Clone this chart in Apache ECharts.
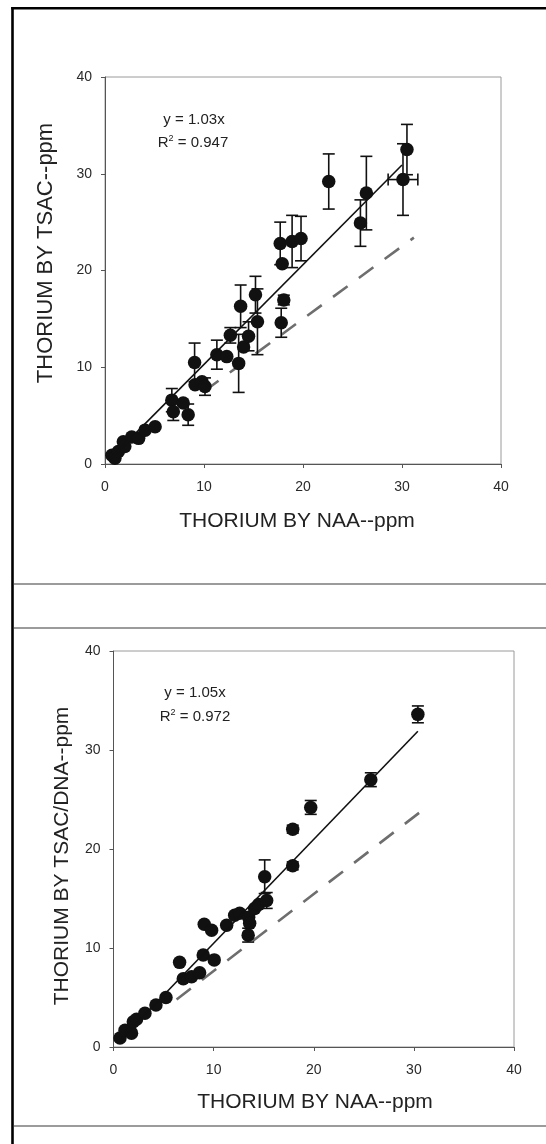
<!DOCTYPE html>
<html>
<head>
<meta charset="utf-8">
<script src="https://cdn.jsdelivr.net/npm/echarts@6/dist/echarts.min.js"></script>
<style>
html,body{margin:0;padding:0;background:#fff;}
#c{width:546px;height:1144px;}
</style>
</head>
<body>
<div id="c"></div>
<script>
// ---------- DATA ----------
const xTicks = [0, 10, 20, 30, 40];
const yTicks = [0, 10, 20, 30, 40];

// Top panel: TSAC vs NAA
const topX   = [0.7, 1.0, 1.35, 1.85, 2.0, 2.7, 3.4, 4.05, 5.06, 6.75, 6.9, 7.9, 8.4, 9.05, 9.1, 9.8, 10.1, 11.3, 12.3, 12.66, 13.5, 13.7, 14.0, 14.5, 15.2, 15.4, 17.8, 18.06, 17.9, 17.7, 18.9, 19.8, 22.6, 25.8, 26.4, 30.1, 30.5];
const topY   = [0.9, 0.6, 1.3, 2.3, 1.8, 2.8, 2.65, 3.5, 3.85, 6.6, 5.4, 6.3, 5.1, 10.5, 8.2, 8.5, 8.0, 11.3, 11.1, 13.3, 10.4, 16.3, 12.1, 13.2, 17.5, 14.7, 14.6, 16.95, 20.7, 22.8, 23.0, 23.3, 29.2, 24.9, 28.0, 29.4, 32.5];
const topYErr= [0, 0, 0, 0, 0, 0, 0, 0, 0, 1.2, 0.9, 0, 1.1, 2.0, 0, 0, 0.9, 1.5, 0, 0.8, 3.0, 2.2, 0, 1.5, 1.9, 3.4, 1.5, 0.5, 0, 2.2, 2.7, 2.3, 2.85, 2.4, 3.8, 3.7, 2.6];
const topXErr= [0, 0, 0, 0, 0, 0, 0, 0, 0, 0, 0, 0, 0, 0, 0, 0, 0, 0, 0, 0, 0, 0, 0, 0, 0, 0, 0, 0, 0, 0, 0, 0, 0, 0, 0, 1.5, 0];
const topFit    = [[0.5, 0.5], [30.0, 30.9]];      // y = 1.03x
const topDashed = [[10.0, 7.5], [31.2, 23.4]];
const topEq = "y = 1.03x";
const topR2 = "0.947";

// Bottom panel: TSAC/DNA vs NAA
const botX   = [0.65, 1.15, 1.8, 1.98, 2.3, 3.14, 4.24, 5.24, 6.6, 6.97, 7.8, 8.6, 8.96, 10.06, 9.06, 9.8, 11.3, 12.1, 12.6, 13.5, 13.6, 13.45, 14.1, 14.5, 15.3, 15.1, 17.9, 17.9, 19.7, 25.7, 30.4];
const botY   = [0.9, 1.7, 1.4, 2.55, 2.8, 3.4, 4.24, 5.0, 8.55, 6.9, 7.1, 7.5, 9.3, 8.8, 12.4, 11.8, 12.3, 13.3, 13.5, 13.1, 12.5, 11.3, 14.0, 14.4, 14.8, 17.2, 18.3, 22.0, 24.2, 27.0, 33.6];
const botYErr= [0, 0, 0, 0, 0, 0, 0, 0, 0, 0, 0, 0, 0, 0, 0, 0, 0, 0, 0, 0, 0, 0.7, 0, 0, 0.8, 1.7, 0.4, 0.4, 0.7, 0.7, 0.85];
const botFit    = [[0.6, 0.6], [30.4, 31.9]];      // y = 1.05x
const botDashed = [[6.3, 4.8], [31.1, 24.1]];
const botEq = "y = 1.05x";
const botR2 = "0.972";

const xTitle = "THORIUM BY NAA--ppm";
const yTitleTop = "THORIUM BY TSAC--ppm";
const yTitleBot = "THORIUM BY TSAC/DNA--ppm";

// ---------- CHART ----------
const FONT = "'Liberation Sans', Arial, sans-serif";
const chart = echarts.init(document.getElementById('c'), null, {renderer: 'canvas'});

function zip(xs, ys) { return xs.map((x, i) => [x, ys[i]]); }
function errData(xs, ys, ey, ex) { return xs.map((x, i) => [x, ys[i], ey[i], ex ? ex[i] : 0]); }

function axisX(gi) {
  return {
    type: 'value', gridIndex: gi, min: xTicks[0], max: xTicks[xTicks.length - 1], interval: xTicks[1] - xTicks[0],
    axisLine: {show: true, onZero: false, lineStyle: {color: '#555', width: 1}},
    axisTick: {show: true, length: 4, lineStyle: {color: '#555'}},
    axisLabel: {fontSize: 14, color: '#2a2a2a', margin: 16, fontFamily: FONT},
    splitLine: {show: false}
  };
}
function axisY(gi) {
  return {
    type: 'value', gridIndex: gi, min: yTicks[0], max: yTicks[yTicks.length - 1], interval: yTicks[1] - yTicks[0],
    axisLine: {show: true, onZero: false, lineStyle: {color: '#555', width: 1}},
    axisTick: {show: true, length: 4, lineStyle: {color: '#555'}},
    axisLabel: {fontSize: 14, color: '#2a2a2a', margin: 13, fontFamily: FONT},
    splitLine: {show: false}
  };
}

function errRender(params, api) {
  const x = api.value(0), y = api.value(1), ey = api.value(2), ex = api.value(3);
  const children = [];
  const cap = 6;
  const st = {stroke: '#111', lineWidth: 1.6};
  if (ey > 0) {
    const t = api.coord([x, y + ey]);
    const b = api.coord([x, y - ey]);
    children.push({type: 'line', shape: {x1: t[0], y1: t[1], x2: b[0], y2: b[1]}, style: st});
    children.push({type: 'line', shape: {x1: t[0] - cap, y1: t[1], x2: t[0] + cap, y2: t[1]}, style: st});
    children.push({type: 'line', shape: {x1: b[0] - cap, y1: b[1], x2: b[0] + cap, y2: b[1]}, style: st});
  }
  if (ex > 0) {
    const l = api.coord([x - ex, y]);
    const r = api.coord([x + ex, y]);
    children.push({type: 'line', shape: {x1: l[0], y1: l[1], x2: r[0], y2: r[1]}, style: st});
    children.push({type: 'line', shape: {x1: l[0], y1: l[1] - cap, x2: l[0], y2: l[1] + cap}, style: st});
    children.push({type: 'line', shape: {x1: r[0], y1: r[1] - cap, x2: r[0], y2: r[1] + cap}, style: st});
  }
  return {type: 'group', children: children};
}

function panelSeries(gi, xs, ys, ey, ex, fit, dashed) {
  return [
    {type: 'line', xAxisIndex: gi, yAxisIndex: gi, data: dashed, showSymbol: false, symbol: 'none', silent: true,
     lineStyle: {color: '#6e6e6e', width: 2.6, type: [18, 14]}, z: 2},
    {type: 'custom', xAxisIndex: gi, yAxisIndex: gi, data: errData(xs, ys, ey, ex), renderItem: errRender, z: 3, silent: true},
    {type: 'scatter', xAxisIndex: gi, yAxisIndex: gi, data: zip(xs, ys), symbol: 'circle', symbolSize: 13.5,
     itemStyle: {color: '#111', opacity: 1}, z: 4, silent: true},
    {type: 'line', xAxisIndex: gi, yAxisIndex: gi, data: fit, showSymbol: false, symbol: 'none', silent: true,
     lineStyle: {color: '#111', width: 1.6}, z: 5}
  ];
}

function txt(x, y, text, size, extra) {
  return Object.assign({type: 'text', x: x, y: y,
    style: {text: text, fontSize: size, fontFamily: FONT, fill: '#222', textAlign: 'center', textVerticalAlign: 'middle'}}, extra || {});
}
function r2Text(x, y, val) {
  return {type: 'text', x: x, y: y,
    style: {text: '{n|R}{s|2}{n| = ' + val + '}', fontFamily: FONT, fill: '#222', textAlign: 'center', textVerticalAlign: 'middle',
      rich: {n: {fontSize: 15, fontFamily: FONT, fill: '#222', color: '#222'},
             s: {fontSize: 9, fontFamily: FONT, verticalAlign: 'top', color: '#222', padding: [0, 0, 8, 0]}}}};
}

const option = {
  animation: false,
  backgroundColor: '#fff',
  grid: [
    {left: 105, top: 77, width: 396, height: 387, show: true, borderColor: '#9a9a9a', borderWidth: 1, backgroundColor: 'transparent'},
    {left: 113.5, top: 651, width: 400.5, height: 396, show: true, borderColor: '#9a9a9a', borderWidth: 1, backgroundColor: 'transparent'}
  ],
  xAxis: [axisX(0), axisX(1)],
  yAxis: [axisY(0), axisY(1)],
  series: [].concat(
    panelSeries(0, topX, topY, topYErr, topXErr, topFit, topDashed),
    panelSeries(1, botX, botY, botYErr, null, botFit, botDashed)
  ),
  graphic: [
    // frame lines
    {type: 'line', shape: {x1: 12.5, y1: 7, x2: 12.5, y2: 1144}, style: {stroke: '#000', lineWidth: 2.6}},
    {type: 'line', shape: {x1: 11.2, y1: 8.3, x2: 546, y2: 8.3}, style: {stroke: '#000', lineWidth: 2.6}},
    {type: 'line', shape: {x1: 14, y1: 584, x2: 546, y2: 584}, style: {stroke: '#7a7a7a', lineWidth: 1.4}},
    {type: 'line', shape: {x1: 14, y1: 628, x2: 546, y2: 628}, style: {stroke: '#7a7a7a', lineWidth: 1.4}},
    {type: 'line', shape: {x1: 14, y1: 1126, x2: 546, y2: 1126}, style: {stroke: '#7a7a7a', lineWidth: 1.4}},
    // annotations
    txt(194, 120, topEq, 15),
    r2Text(193, 143, topR2),
    txt(195, 693, botEq, 15),
    r2Text(195, 717, botR2),
    // axis titles
    txt(297, 521, xTitle, 21),
    txt(315, 1102, xTitle, 21),
    txt(46, 253, yTitleTop, 22, {rotation: Math.PI / 2}),
    txt(62, 856, yTitleBot, 21, {rotation: Math.PI / 2})
  ]
};
chart.setOption(option);
</script>
</body>
</html>
